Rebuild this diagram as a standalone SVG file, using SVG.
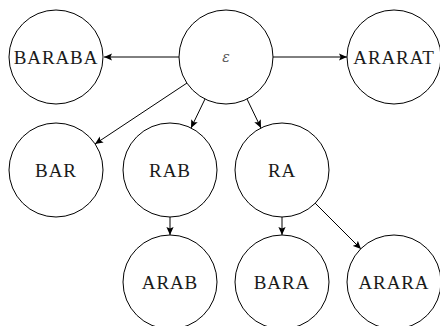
<svg xmlns="http://www.w3.org/2000/svg" width="440" height="326" viewBox="0 0 440 326">
  <defs>
    <marker id="arrow" viewBox="0 0 10 10" refX="10" refY="5" markerWidth="8" markerHeight="8" markerUnits="userSpaceOnUse" orient="auto">
      <path d="M0,0.5 L10,5 L0,9.5 L2,5 Z" fill="#000"/>
    </marker>
  </defs>
  <style>
    .node circle { fill: #fff; stroke: #000; stroke-width: 1; }
    .node text { font-family: "Liberation Serif", "Times New Roman", "DejaVu Serif", serif; font-size: 19px; letter-spacing: 0.9px; fill: #1a1a1a; text-anchor: middle; dominant-baseline: central; }
    .node text.eps { font-family: "DejaVu Serif", serif; font-style: italic; font-size: 14px; letter-spacing: 0; fill: #555; }
    .edges line { stroke: #000; stroke-width: 1; marker-end: url(#arrow); }
  </style>

  <g class="edges">
    <line x1="179" y1="57" x2="104" y2="57"/>
    <line x1="273" y1="57" x2="347" y2="57"/>
    <line x1="187" y1="83" x2="95" y2="144"/>
    <line x1="205" y1="99" x2="191" y2="128"/>
    <line x1="247" y1="99" x2="261" y2="128"/>
    <line x1="170" y1="217" x2="170" y2="235"/>
    <line x1="282" y1="217" x2="282" y2="235"/>
    <line x1="315" y1="203" x2="361" y2="249"/>
  </g>

  <g id="node-epsilon" class="node">
    <circle cx="226" cy="57" r="47"/>
    <text class="eps" x="226" y="57">ε</text>
  </g>
  <g id="node-baraba" class="node">
    <circle cx="56" cy="57" r="47"/>
    <text x="56" y="57">BARABA</text>
  </g>
  <g id="node-ararat" class="node">
    <circle cx="394" cy="57" r="47"/>
    <text x="394" y="57">ARARAT</text>
  </g>
  <g id="node-bar" class="node">
    <circle cx="56" cy="170" r="47"/>
    <text x="56" y="170">BAR</text>
  </g>
  <g id="node-rab" class="node">
    <circle cx="170" cy="170" r="47"/>
    <text x="170" y="170">RAB</text>
  </g>
  <g id="node-ra" class="node">
    <circle cx="282" cy="170" r="47"/>
    <text x="282" y="170">RA</text>
  </g>
  <g id="node-arab" class="node">
    <circle cx="170" cy="282" r="47"/>
    <text x="170" y="282">ARAB</text>
  </g>
  <g id="node-bara" class="node">
    <circle cx="282" cy="282" r="47"/>
    <text x="282" y="282">BARA</text>
  </g>
  <g id="node-arara" class="node">
    <circle cx="394" cy="282" r="47"/>
    <text x="394" y="282">ARARA</text>
  </g>
</svg>
